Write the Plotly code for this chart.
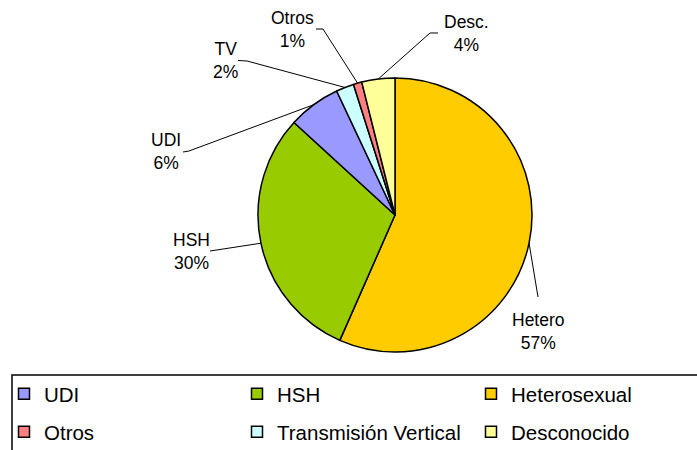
import numpy as np
import plotly.graph_objects as go

# ---------------- data ----------------
slice_names = ["Heterosexual", "HSH", "UDI", "Transmisión Vertical", "Otros", "Desconocido"]
short_labels = ["Hetero", "HSH", "UDI", "TV", "Otros", "Desc."]
values = [56.6, 30.2, 6.2, 2.1, 1.0, 3.9]
colors = ["#FFCC00", "#99CC00", "#9999FF", "#CCFFFF", "#FF8080", "#FFFF99"]

legend_order = ["UDI", "HSH", "Heterosexual", "Otros", "Transmisión Vertical", "Desconocido"]

# ---------------- layout helpers (pixels) ----------------
W, H = 697, 450
def px(x):
    return x / W
def py(y):
    return 1 - y / H

CX, CY, R = 395, 215, 137
# label anchor centres and leader-line outer points (layout positions)
label_pos = {
    "Hetero": (538, 331.5),
    "HSH": (191, 251),
    "UDI": (166, 152),
    "TV": (225, 61),
    "Otros": (292, 30),
    "Desc.": (466, 33),
}
leader_outer = {
    "Hetero": [(538, 297)],
    "HSH": [(210, 251)],
    "UDI": [(189, 151), (183, 152)],
    "TV": [(247, 61), (238, 60.5)],
    "Otros": [(323, 29), (316, 29)],
    "Desc.": [(430, 33), (438, 33)],
}
# legend grid (3 columns x 2 rows), positions in pixels
legend_cols = [4, 237, 471]
legend_rows = [394, 432]

FONT = "Liberation Sans, Arial, sans-serif"

fig = go.Figure()
fig.add_trace(go.Pie(
    labels=slice_names,
    values=values,
    sort=False,
    direction="clockwise",
    rotation=0,
    marker=dict(colors=colors, line=dict(color="black", width=1.5)),
    textinfo="none",
    hoverinfo="label+percent",
    showlegend=False,
    domain=dict(x=[px(CX - R), px(CX + R)], y=[py(CY + R), py(CY - R)]),
))

# legend entries: one small legend per entry, laid out as a 3x2 grid
color_of = dict(zip(slice_names, colors))
legend_layouts = {}
for i, name in enumerate(legend_order):
    lid = "legend" if i == 0 else f"legend{i + 1}"
    fig.add_trace(go.Scatter(x=[None], y=[None], mode="markers", name=name,
                             marker=dict(symbol="square", size=11, color=color_of[name],
                                         line=dict(color="black", width=1.5)),
                             legend=lid))
    legend_layouts[lid] = dict(
        x=px(legend_cols[i % 3]), y=py(legend_rows[i // 3]),
        xanchor="left", yanchor="middle", orientation="h",
        font=dict(family=FONT, size=20.5, color="black"),
        bgcolor="rgba(0,0,0,0)", borderwidth=0, itemclick=False, itemdoubleclick=False,
    )

# labels and leader lines
total = sum(values)
cum = 0.0
shapes = []
annotations = []
for lab, v in zip(short_labels, values):
    theta = 2 * np.pi * (cum + v / 2) / total
    cum += v
    ex = CX + R * np.sin(theta)
    ey = CY - R * np.cos(theta)
    pts = [(ex, ey)] + leader_outer[lab]
    path = "M " + " L ".join(f"{px(x):.5f},{py(y):.5f}" for x, y in pts)
    shapes.append(dict(type="path", path=path, xref="paper", yref="paper",
                       line=dict(color="black", width=1)))
    pct = int(round(100 * v / total))
    lx, ly = label_pos[lab]
    annotations.append(dict(text=f"{lab}<br>{pct}%", x=px(lx), y=py(ly),
                            xref="paper", yref="paper", xanchor="center", yanchor="middle",
                            showarrow=False, align="center",
                            font=dict(family=FONT, size=17.5, color="black")))

# legend frame
shapes.append(dict(type="rect", xref="paper", yref="paper",
                   x0=px(12), x1=px(710), y0=py(375), y1=py(470),
                   line=dict(color="black", width=1.5), fillcolor="rgba(0,0,0,0)"))

fig.update_layout(
    width=W, height=H,
    margin=dict(l=0, r=0, t=0, b=0, autoexpand=False),
    paper_bgcolor="white", plot_bgcolor="white",
    xaxis=dict(visible=False), yaxis=dict(visible=False),
    shapes=shapes,
    annotations=annotations,
    font=dict(family=FONT, color="black"),
    **legend_layouts,
)

fig.write_html("out.html", config={"displayModeBar": False},
               post_script="document.body.style.margin='0px';document.body.style.padding='0px';")
